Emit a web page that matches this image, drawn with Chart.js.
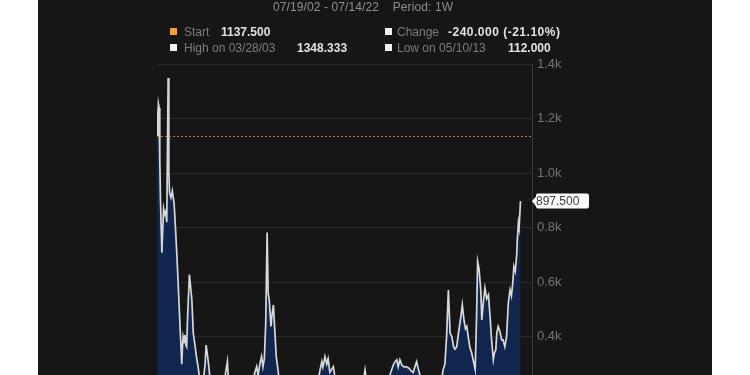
<!DOCTYPE html>
<html>
<head>
<meta charset="utf-8">
<script src="https://cdn.jsdelivr.net/npm/chart.js@4.4.1/dist/chart.umd.min.js"></script>
<style>
  html, body { margin:0; padding:0; width:750px; height:375px; overflow:hidden; background:#ffffff; }
  #panel { position:absolute; left:38px; top:0; width:674px; height:375px; background:#161616; }
  #wrap { position:absolute; left:0; top:0; width:750px; height:470px; }
  .t { position:absolute; font-family:"Liberation Sans", Arial, sans-serif; font-size:12px; line-height:14px; white-space:nowrap; }
  .lab { color:#7c7c7c; }
  .hdr { color:#8e8e8e; letter-spacing:0.1px; }
  .val { color:#e2e2e2; font-weight:bold; }
  .sq { position:absolute; width:7px; height:7px; }
</style>
</head>
<body>
<div id="panel"></div>
<div id="wrap"><canvas id="c" width="750" height="470"></canvas></div>

<div class="t hdr" style="left:273px; top:0px;">07/19/02 - 07/14/22&nbsp;&nbsp;&nbsp;&nbsp;Period: 1W</div>

<div class="sq" style="left:170px; top:28px; background:#f0a030;"></div>
<div class="t lab" style="left:184px; top:25px;">Start</div>
<div class="t val" style="left:221px; top:25px;">1137.500</div>

<div class="sq" style="left:385px; top:28px; background:#f2f2f2;"></div>
<div class="t lab" style="left:397px; top:25px;">Change</div>
<div class="t val" style="left:448px; top:25px; letter-spacing:0.5px;">-240.000 (-21.10%)</div>

<div class="sq" style="left:170px; top:44px; background:#f2f2f2;"></div>
<div class="t lab" style="left:184px; top:41px;">High on 03/28/03</div>
<div class="t val" style="left:297px; top:41px;">1348.333</div>

<div class="sq" style="left:385px; top:44px; background:#f2f2f2;"></div>
<div class="t lab" style="left:397px; top:41px;">Low on 05/10/13</div>
<div class="t val" style="left:508px; top:41px;">112.000</div>

<script>
// week index since 07/19/02
const weeks = [0,2,4,6,8,10,14,16,19,22,25,28,32,34,36,40,44,49,53,57,62,66,69,71,73,75,78,80,83,85,88,93,96,100,104,109,113,118,122,126,132,138,141,145,148,152,158,166,175,184,192,202,205,212,224,238,252,267,275,281,286,290,295,300,304,308,312,316,319,322,327,330,334,339,342,346,350,359,367,382,396,410,425,439,453,462,468,473,476,482,487,491,496,506,511,519,531,542,554,562,571,582,591,597,601,608,620,634,648,662,671,678,683,688,692,697,703,709,716,723,729,735,740,745,750,757,769,783,798,812,821,826,831,836,841,846,851,855,860,865,872,876,881,885,889,893,898,903,908,913,917,920,924,929,932,937,941,946,951,956,960,965,968,972,975,979,984,989,993,998,1003,1008,1013,1017,1021,1024,1028,1032,1034,1037,1039,1043];
const values = [1137.5,1200,1255,1240,1050,900,708,780,870,850,860,820,1348.333,1000,928,910,935,890,800,700,560,440,360,300,360,400,380,407,370,364,480,628,590,536,414,370,328,290,250,220,230,300,370,330,300,250,200,190,180,200,230,309,240,190,170,160,180,200,240,270,291,260,300,328,290,320,450,782,560,536,438,480,517,401,330,291,250,220,200,180,170,185,170,160,190,240,280,309,290,328,300,320,270,291,250,200,170,150,130,112,130,170,230,279,240,200,180,190,220,240,270,297,309,316,290,316,295,290,290,285,275,270,290,309,280,250,220,200,190,210,279,300,401,572,414,400,364,355,364,414,475,517,460,430,438,400,360,341,310,280,475,676,650,572,462,536,579,540,554,470,389,316,340,352,414,438,420,389,389,364,400,524,572,550,600,658,640,700,760,817,800,897.5];
const yTicks = [0,200,400,600,800,1000,1200,1400];
const startValue = 1137.5;
const lastLabel = '897.500';

const overlay = {
  id:'overlay',
  afterDatasetsDraw(chart){
    const {ctx, chartArea, scales} = chart;
    const y = scales.y;
    const ys = Math.round(y.getPixelForValue(startValue)) + 0.5;
    ctx.save();
    ctx.strokeStyle = '#c07a30';
    ctx.lineWidth = 1;
    ctx.setLineDash([2,2]);
    ctx.beginPath();
    ctx.moveTo(chartArea.left, ys);
    ctx.lineTo(chartArea.right, ys);
    ctx.stroke();
    ctx.restore();
  },
  afterDraw(chart){
    const {ctx, chartArea, scales} = chart;
    const yl = scales.y.getPixelForValue(values[values.length-1]);
    const x0 = chartArea.right, bx = x0 + 4, bw = 53, bh = 15;
    const top = yl - bh/2;
    ctx.save();
    ctx.fillStyle = '#ffffff';
    ctx.beginPath();
    ctx.moveTo(x0, yl);
    ctx.lineTo(bx, top + 3);
    ctx.arcTo(bx, top, bx + 2, top, 2);
    ctx.lineTo(bx + bw - 2, top);
    ctx.arcTo(bx + bw, top, bx + bw, top + 2, 2);
    ctx.lineTo(bx + bw, top + bh - 2);
    ctx.arcTo(bx + bw, top + bh, bx + bw - 2, top + bh, 2);
    ctx.lineTo(bx + 2, top + bh);
    ctx.arcTo(bx, top + bh, bx, top + bh - 3, 2);
    ctx.closePath();
    ctx.fill();
    ctx.fillStyle = '#3a3a3a';
    ctx.font = '12px "Liberation Sans", Arial, sans-serif';
    ctx.textBaseline = 'middle';
    ctx.fillText(lastLabel, bx, yl + 0.5);
    ctx.restore();
  }
};

new Chart(document.getElementById('c'), {
  type:'line',
  data:{
    datasets:[{
      data: weeks.map((w,i)=>({x:w, y:values[i]})),
      borderColor:'#d8d8d8',
      borderWidth:1.7,
      backgroundColor:'#10264f',
      fill:'origin',
      pointRadius:0,
      tension:0
    }]
  },
  options:{
    responsive:false,
    animation:false,
    events:[],
    layout:{ padding:{ left:157, top:64, right:0, bottom:24 } },
    plugins:{ legend:{display:false}, tooltip:{enabled:false} },
    scales:{
      x:{ type:'linear', min:0, max:1076, display:false },
      y:{
        position:'right',
        min:0, max:1400,
        afterBuildTicks(axis){ axis.ticks = yTicks.map(v=>({value:v})); },
        afterFit(axis){ axis.width = 218; },
        ticks:{
          padding:5,
          color:'#747474',
          font:{ family:'"Liberation Sans", Arial, sans-serif', size:13 },
          callback:(v)=> v===0 ? '0' : (v/1000).toFixed(1)+'k'
        },
        grid:{ color:'#2a2a2a', drawTicks:false, lineWidth:1 },
        border:{ display:true, color:'#3a3a3a' }
      }
    }
  },
  plugins:[overlay]
});
</script>
</body>
</html>
